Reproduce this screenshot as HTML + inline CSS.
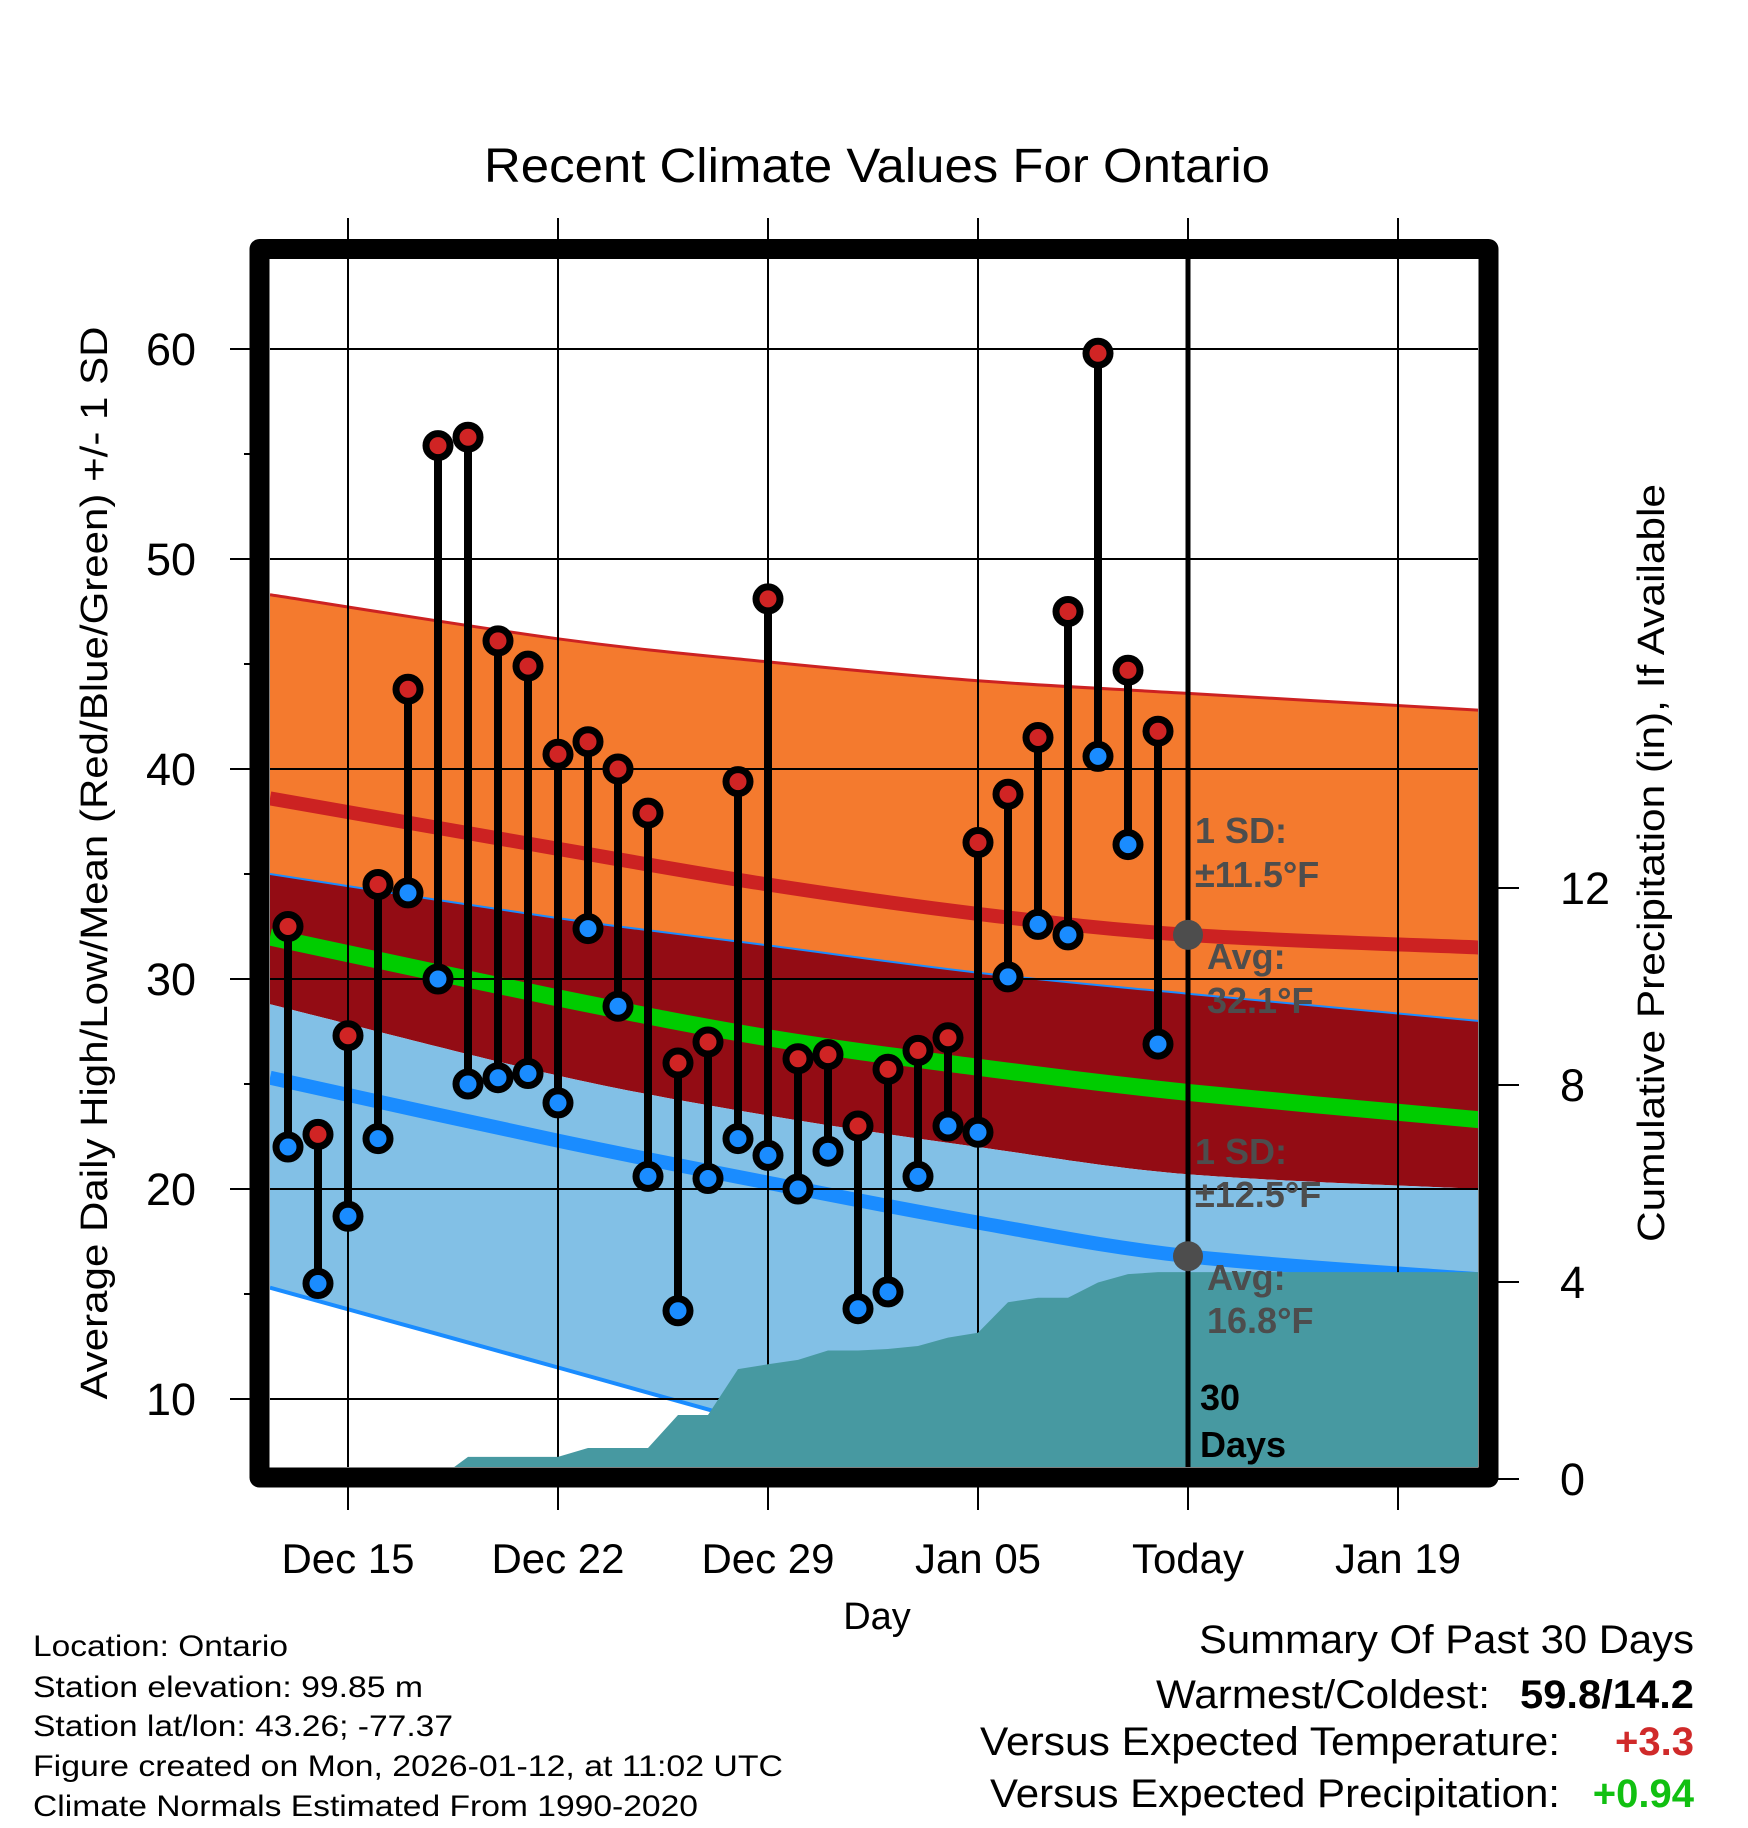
<!DOCTYPE html>
<html><head><meta charset="utf-8"><style>
html,body{margin:0;padding:0;background:#fff;}
svg{display:block;font-family:"Liberation Sans",Arial,sans-serif;}
</style></head><body>
<svg id="chart" width="1748" height="1828" viewBox="0 0 1748 1828" xmlns="http://www.w3.org/2000/svg">
<defs><clipPath id="plotClip"><rect x="270" y="259" width="1208" height="1208"/></clipPath></defs>
<text x="877" y="182" font-size="48" text-anchor="middle" textLength="786" lengthAdjust="spacingAndGlyphs">Recent Climate Values For Ontario</text>
<g id="bands" clip-path="url(#plotClip)"></g>
<g id="grid" clip-path="url(#plotClip)"></g>
<g id="precip" clip-path="url(#plotClip)"></g>
<g id="today"></g>
<g id="annot">
<text x="1195" y="843" font-size="36" font-weight="bold" fill="#4d4d4d">1 SD:</text>
<text x="1195" y="887" font-size="36" font-weight="bold" fill="#4d4d4d">±11.5°F</text>
<text x="1207" y="969" font-size="36" font-weight="bold" fill="#4d4d4d">Avg:</text>
<text x="1207" y="1013" font-size="36" font-weight="bold" fill="#4d4d4d">32.1°F</text>
<text x="1195" y="1164" font-size="36" font-weight="bold" fill="#4d4d4d">1 SD:</text>
<text x="1195" y="1207" font-size="36" font-weight="bold" fill="#4d4d4d">±12.5°F</text>
<text x="1207" y="1290" font-size="36" font-weight="bold" fill="#4d4d4d">Avg:</text>
<text x="1207" y="1333" font-size="36" font-weight="bold" fill="#4d4d4d">16.8°F</text>
<text x="1200" y="1410" font-size="36" font-weight="bold" fill="#000">30</text>
<text x="1200" y="1457" font-size="36" font-weight="bold" fill="#000">Days</text>
</g>
<g id="marks"></g>
<rect x="259.5" y="249" width="1229" height="1228.5" fill="none" stroke="#000" stroke-width="20" stroke-linejoin="round"/>
<g id="axes"></g>
<text x="877" y="1629" font-size="38" text-anchor="middle">Day</text>
<text transform="translate(107,863) rotate(-90)" font-size="38" text-anchor="middle" textLength="1073" lengthAdjust="spacingAndGlyphs">Average Daily High/Low/Mean (Red/Blue/Green) +/- 1 SD</text>
<text transform="translate(1664,863) rotate(-90)" font-size="38" text-anchor="middle" textLength="758" lengthAdjust="spacingAndGlyphs">Cumulative Precipitation (in), If Available</text>
<g font-size="30">
<text x="33" y="1656" textLength="255" lengthAdjust="spacingAndGlyphs">Location: Ontario</text>
<text x="33" y="1697" textLength="390" lengthAdjust="spacingAndGlyphs">Station elevation: 99.85 m</text>
<text x="33" y="1736" textLength="420" lengthAdjust="spacingAndGlyphs">Station lat/lon: 43.26; -77.37</text>
<text x="33" y="1776" textLength="750" lengthAdjust="spacingAndGlyphs">Figure created on Mon, 2026-01-12, at 11:02 UTC</text>
<text x="33" y="1816" textLength="665" lengthAdjust="spacingAndGlyphs">Climate Normals Estimated From 1990-2020</text>
</g>
<g font-size="40">
<text x="1694" y="1653" text-anchor="end" textLength="495" lengthAdjust="spacingAndGlyphs">Summary Of Past 30 Days</text>
<text x="1490" y="1708" text-anchor="end" textLength="334" lengthAdjust="spacingAndGlyphs">Warmest/Coldest:</text>
<text x="1694" y="1708" text-anchor="end" font-weight="bold" textLength="174" lengthAdjust="spacingAndGlyphs">59.8/14.2</text>
<text x="1560" y="1755" text-anchor="end" textLength="580" lengthAdjust="spacingAndGlyphs">Versus Expected Temperature:</text>
<text x="1694" y="1755" text-anchor="end" font-weight="bold" fill="#d02a2a">+3.3</text>
<text x="1560" y="1807" text-anchor="end" textLength="570" lengthAdjust="spacingAndGlyphs">Versus Expected Precipitation:</text>
<text x="1694" y="1807" text-anchor="end" font-weight="bold" fill="#11c011">+0.94</text>
</g>
</svg>
<script>
// day index relative to Dec 15
const days = [-2,-1,0,1,2,3,4,5,6,7,8,9,10,11,12,13,14,15,16,17,18,19,20,21,22,23,24,25,26,27];
const highs = [32.5,22.6,27.3,34.5,43.8,55.4,55.8,46.1,44.9,40.7,41.3,40.0,37.9,26.0,27.0,39.4,48.1,26.2,26.4,23.0,25.7,26.6,27.2,36.5,38.8,41.5,47.5,59.8,44.7,41.8];
const lows = [22.0,15.5,18.7,22.4,34.1,30.0,25.0,25.3,25.5,24.1,32.4,28.7,20.6,14.2,20.5,22.4,21.6,20.0,21.8,14.3,15.1,20.6,23.0,22.7,30.1,32.6,32.1,40.6,36.4,26.9];
const precipDays = [-3,3,4,7,8,10,11,12,13,14,15,16,17,18,19,20,21,22,23,24,25,26,27,38];
const precipVals = [0,0,0.45,0.45,0.63,0.63,1.3,1.3,2.23,2.33,2.42,2.61,2.61,2.64,2.7,2.87,2.97,3.59,3.68,3.68,3.99,4.16,4.2,4.2];
const normDays = [-2.6,7,14,21,28,37.7];
const hiSdTop = [48.3,46.2,45.1,44.2,43.6,42.8];
const hiAvg = [38.6,36.2,34.5,33.1,32.1,31.5];
const hiSdBot = [35.0,32.9,31.6,30.3,29.3,28.0];
const meanAvg = [32.0,29.1,27.2,25.8,24.6,23.3];
const loSdTop = [28.8,25.4,23.5,22.0,20.7,20.0];
const loAvg = [25.3,22.3,20.3,18.4,16.8,15.7];
const loSdBot = [15.3,11.5,8.7,5.9,3.1,-0.8];
const xTickDays = [0,7,14,21,28,35];
const xTickLabels = ["Dec 15","Dec 22","Dec 29","Jan 05","Today","Jan 19"];
const yTicks = [10,20,30,40,50,60];
const yMinor = [15,25,35,45,55];
const pTicks = [0,4,8,12];
const todayDay = 28;
const todayHi = 32.1, todayLo = 16.8;

const NS='http://www.w3.org/2000/svg';
const X = d => 348 + 30*d;
const Y = t => 1609 - 21*t;
const YP = p => 1479 - 49.25*p;
function mk(tag, attrs, parent){const e=document.createElementNS(NS,tag);for(const k in attrs)e.setAttribute(k,attrs[k]);parent.appendChild(e);return e;}
function smooth(xs, ys){
  let d='M'+xs[0]+','+ys[0];
  for(let i=0;i<xs.length-1;i++){
    const x0=xs[Math.max(0,i-1)],y0=ys[Math.max(0,i-1)],x1=xs[i],y1=ys[i],x2=xs[i+1],y2=ys[i+1],x3=xs[Math.min(xs.length-1,i+2)],y3=ys[Math.min(xs.length-1,i+2)];
    d+=' C'+(x1+(x2-x0)/6)+','+(y1+(y2-y0)/6)+' '+(x2-(x3-x1)/6)+','+(y2-(y3-y1)/6)+' '+x2+','+y2;
  }
  return d;
}
function bandPath(top, bot){
  const xs=normDays.map(X);
  const a=smooth(xs, top.map(Y));
  const rx=xs.slice().reverse(), rb=bot.map(Y).reverse();
  const b=smooth(rx, rb).replace('M','L');
  return a+' '+b+' Z';
}
const bands=document.getElementById('bands');
const xs=normDays.map(X);
let e;
e=mk('path',{d:bandPath(hiSdTop,hiSdBot),fill:'#f47a2e'},bands);


e=mk('path',{d:bandPath(hiSdBot,loSdTop),fill:'#930c14'},bands);


e=mk('path',{d:bandPath(loSdTop,loSdBot),fill:'#82c0e6'},bands);


e=mk('path',{d:smooth(xs,hiSdTop.map(Y)),fill:'none',stroke:'#cc2222',"stroke-width":3},bands);


e=mk('path',{d:smooth(xs,hiSdBot.map(Y)),fill:'none',stroke:'#1a8cff',"stroke-width":2},bands);


e=mk('path',{d:smooth(xs,loSdBot.map(Y)),fill:'none',stroke:'#1a8cff',"stroke-width":4},bands);


e=mk('path',{d:smooth(xs,hiAvg.map(Y)),fill:'none',stroke:'#cc2222',"stroke-width":14},bands);


e=mk('path',{d:smooth(xs,meanAvg.map(Y)),fill:'none',stroke:'#00cc00',"stroke-width":17},bands);


e=mk('path',{d:smooth(xs,loAvg.map(Y)),fill:'none',stroke:'#1a8cff',"stroke-width":14},bands);



const grid=document.getElementById('grid');
yTicks.forEach(t=>{e=mk('line',{x1:270,x2:1478,y1:Y(t),y2:Y(t),stroke:'#000',"stroke-width":2},grid);

});
xTickDays.forEach(d=>{e=mk('line',{x1:X(d),x2:X(d),y1:259,y2:1467,stroke:'#000',"stroke-width":2},grid);

});

const pg=document.getElementById('precip');
let pd='M'+X(precipDays[0])+','+YP(0);
precipDays.forEach((d,i)=>{pd+=' L'+X(d)+','+YP(precipVals[i]);});
pd+=' L'+X(precipDays[precipDays.length-1])+','+YP(0)+' Z';
e=mk('path',{d:pd,fill:'#4799a1'},pg);



const tg=document.getElementById('today');
e=mk('line',{x1:X(todayDay),x2:X(todayDay),y1:259,y2:1467,stroke:'#000',"stroke-width":5},tg);


e=mk('circle',{cx:X(todayDay),cy:Y(todayHi),r:15,fill:'#4d4d4d'},tg);


e=mk('circle',{cx:X(todayDay),cy:Y(todayLo),r:15,fill:'#4d4d4d'},tg);



const mg=document.getElementById('marks');
days.forEach((d,i)=>{
  const x=X(d);
  e=mk('line',{x1:x,x2:x,y1:Y(highs[i]),y2:Y(lows[i]),stroke:'#000',"stroke-width":8},mg);
  
  
  e=mk('circle',{cx:x,cy:Y(highs[i]),r:12,fill:'#d02424',stroke:'#000',"stroke-width":7},mg);
  
  
  e=mk('circle',{cx:x,cy:Y(lows[i]),r:12,fill:'#1a8cff',stroke:'#000',"stroke-width":7},mg);
  
  
});

const ax=document.getElementById('axes');
yTicks.forEach(t=>{
  e=mk('line',{x1:230,x2:250,y1:Y(t),y2:Y(t),stroke:'#000',"stroke-width":2},ax);
  
  
  e=mk('text',{x:196,y:Y(t)+16,"font-size":45,"text-anchor":"end"},ax);e.textContent=t;
  
  
});
yMinor.forEach(t=>{e=mk('line',{x1:244,x2:250,y1:Y(t),y2:Y(t),stroke:'#000',"stroke-width":2},ax);

});
xTickDays.forEach((d,i)=>{
  e=mk('line',{x1:X(d),x2:X(d),y1:218,y2:240,stroke:'#000',"stroke-width":2},ax);
  
  
  e=mk('line',{x1:X(d),x2:X(d),y1:1486,y2:1510,stroke:'#000',"stroke-width":2},ax);
  
  
  e=mk('text',{x:X(d),y:1573,"font-size":42,"text-anchor":"middle"},ax);e.textContent=xTickLabels[i];
  
  
});
pTicks.forEach(p=>{
  e=mk('line',{x1:1498,x2:1519,y1:YP(p),y2:YP(p),stroke:'#000',"stroke-width":2},ax);
  
  
  e=mk('text',{x:1560,y:YP(p)+16,"font-size":45},ax);e.textContent=p;
  
  
});
</script>
</body></html>
